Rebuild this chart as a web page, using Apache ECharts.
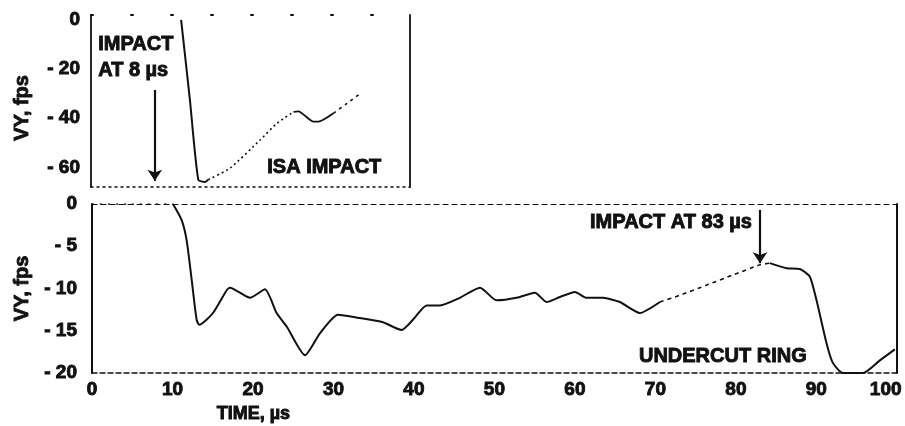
<!DOCTYPE html>
<html><head><meta charset="utf-8">
<script src="https://cdn.jsdelivr.net/npm/echarts@6/dist/echarts.min.js"></script>
<style>html,body{margin:0;padding:0;background:#fff}#c{width:905px;height:426px}</style>
</head><body><div id="c"></div>
<script>
// ---- data (time in µs, VY in fps) ----
const isaYTicks = [0, -20, -40, -60];
const ringYTicks = [0, -5, -10, -15, -20];

// ISA impact (upper panel)
const isaDrop = [[11.3, 0], [12.4, -32.5], [13.45, -65], [14.3, -66], [14.7, -65]];
const isaRise = [[14.7, -65], [17.4, -60.4], [21.2, -48.9], [23.3, -42.1], [25.4, -37.4]];
const isaBump = [[25.4, -37.4], [26.0, -37.2], [27.9, -41.4], [28.5, -41.4], [30.4, -38]];
const isaTail = [[30.4, -38], [32.1, -34], [33.9, -29.6]];

// Undercut ring (lower panel)
const ringLead = [[0, 0], [5, 0], [10.06, 0]];
const ringMain = [[10.06, 0], [11.14, -1.9], [11.76, -4.3], [12.39, -9], [13.0, -13.7], [13.33, -14.3],
  [15.03, -12.9], [16.73, -10.2], [17.14, -9.9], [19.63, -11.1], [21.49, -10.1], [22.94, -12.9],
  [24.19, -14.5], [26.46, -17.9], [28.32, -15.3], [30.56, -13.1], [33.29, -13.5], [36.15, -14],
  [38.47, -14.9], [39.88, -13.7], [41.58, -12], [43.23, -12], [45.71, -11.1], [48.2, -9.9],
  [50.27, -11.4], [52.76, -11.1], [55.03, -10.5], [56.48, -11.6], [58.14, -11], [60.0, -10.4],
  [61.45, -11.1], [63.48, -11.1], [65.59, -11.6], [68.07, -12.9], [70.56, -11.6]];
const ringRise = [[70.56, -11.6], [73.04, -10.8], [76.36, -9.6], [79.63, -8.4], [82.98, -7.2], [84.22, -7]];
const ringFall = [[84.22, -7], [86.3, -7.6], [87.95, -7.7], [89.19, -8.6], [90.02, -11.4], [91.27, -16.5],
  [92.05, -18.8], [93.29, -20], [95.78, -20], [97.89, -18.5], [99.75, -17.2]];

// ---- styles ----
const FONT = "'Liberation Sans', Arial, sans-serif";
const INK = '#111';
const txt = { fontFamily: FONT, fontWeight: 'bold', fontSize: 19, color: INK, textBorderColor: INK, textBorderWidth: 0.9 };
const noteTxt = Object.assign({}, txt, { fontSize: 20 });

function lineSeries(data, xi, yi, type, width) {
  return { type: 'line', data, xAxisIndex: xi, yAxisIndex: yi, showSymbol: false, symbol: 'none',
    smooth: 0.2, silent: true, lineStyle: { color: INK, width: width || 2, type: type || 'solid' } };
}
function note(name, coord, pos) {
  return { name, coord, symbol: 'circle', symbolSize: 0,
    label: Object.assign({ show: true, position: pos, distance: 0, formatter: p => p.name }, noteTxt) };
}

const chart = echarts.init(document.getElementById('c'), null, { renderer: 'canvas' });
const option = {
  backgroundColor: '#fff',
  animation: false,
  grid: [
    { left: 91, top: 15, width: 319, height: 172 },
    { left: 92, top: 204, width: 805, height: 169 }
  ],
  xAxis: [
    { gridIndex: 0, type: 'value', min: 0, max: 40, position: 'bottom',
      axisLine: { onZero: false, lineStyle: { color: INK, width: 1.5, type: [2, 4] } },
      axisTick: { show: false }, axisLabel: { show: false }, splitLine: { show: false } },
    { gridIndex: 0, type: 'value', min: 0, max: 40, position: 'top',
      axisLine: { onZero: false, lineStyle: { color: INK, width: 2, type: [2, 38] } },
      axisTick: { show: false }, axisLabel: { show: false }, splitLine: { show: false } },
    { gridIndex: 1, type: 'value', min: 0, max: 100, interval: 10, position: 'bottom',
      name: 'TIME, µs', nameLocation: 'middle', nameGap: 32,
      nameTextStyle: Object.assign({}, txt, { fontSize: 18, padding: [0, 482, 0, 0] }),
      axisLine: { onZero: false, lineStyle: { color: INK, width: 1.5, type: [5, 3] } },
      axisTick: { show: false }, splitLine: { show: false },
      axisLabel: Object.assign({ margin: 7,
        formatter: v => v === 100 ? '{e|100}' : String(v),
        rich: { e: Object.assign({ width: 54, align: 'left' }, txt) } }, txt) },
    { gridIndex: 1, type: 'value', min: 0, max: 100, position: 'top',
      axisLine: { onZero: false, lineStyle: { color: INK, width: 1.2, type: [5, 4] } },
      axisTick: { show: false }, axisLabel: { show: false }, splitLine: { show: false } }
  ],
  yAxis: [
    { gridIndex: 0, type: 'value', min: -68, max: 2, position: 'left',
      name: 'VY, fps', nameLocation: 'middle', nameGap: 59, nameRotate: 90,
      nameTextStyle: Object.assign({}, txt, { fontSize: 20, padding: [0, 14, 0, 0] }),
      axisLine: { onZero: false, lineStyle: { color: INK, width: 1.8 } },
      axisTick: { show: false }, splitLine: { show: false },
      axisLabel: Object.assign({ margin: 11, customValues: isaYTicks,
        formatter: v => v === 0 ? '0' : '- ' + Math.abs(v) }, txt) },
    { gridIndex: 0, type: 'value', min: -68, max: 2, position: 'right',
      axisLine: { onZero: false, lineStyle: { color: INK, width: 1.8 } },
      axisTick: { show: false }, axisLabel: { show: false }, splitLine: { show: false } },
    { gridIndex: 1, type: 'value', min: -20, max: 0, interval: 5, position: 'left',
      name: 'VY, fps', nameLocation: 'middle', nameGap: 60, nameRotate: 90,
      nameTextStyle: Object.assign({}, txt, { fontSize: 20 }),
      axisLine: { onZero: false, lineStyle: { color: INK, width: 2 } },
      axisTick: { show: false }, splitLine: { show: false },
      axisLabel: Object.assign({ margin: 15, customValues: ringYTicks,
        formatter: v => v === 0 ? '0' : '- ' + Math.abs(v) }, txt) },
    { gridIndex: 1, type: 'value', min: -20, max: 0, position: 'right',
      axisLine: { onZero: false, lineStyle: { color: INK, width: 2 } },
      axisTick: { show: false }, axisLabel: { show: false }, splitLine: { show: false } }
  ],
  series: [
    Object.assign(lineSeries(isaDrop, 0, 0, 'solid', 2), {
      markLine: { silent: true, symbol: ['none', 'arrow'], symbolSize: 11,
        lineStyle: { color: INK, width: 2.2, type: 'solid' }, label: { show: false },
        data: [[{ coord: [8, -28.5] }, { coord: [8, -65.5] }]] },
      markPoint: { silent: true, data: [
        note('IMPACT', [0.9, -10.2], 'right'),
        note('AT 8 µs', [0.9, -20.4], 'right'),
        note('ISA IMPACT', [22.1, -59.9], 'right')
      ] } }),
    lineSeries(isaRise, 0, 0, [2, 3], 1.6),
    lineSeries(isaBump, 0, 0, 'solid', 1.8),
    lineSeries(isaTail, 0, 0, [3, 4], 1.6),
    lineSeries(ringLead, 2, 2, [2, 6], 1.5),
    Object.assign(lineSeries(ringMain, 2, 2, 'solid', 2), {
      markLine: { silent: true, symbol: ['none', 'arrow'], symbolSize: 11,
        lineStyle: { color: INK, width: 2.2, type: 'solid' }, label: { show: false },
        data: [[{ coord: [83, -0.7] }, { coord: [83, -7.0] }]] },
      markPoint: { silent: true, data: [
        note('IMPACT AT 83 µs', [82.0, -2.13], 'left'),
        note('UNDERCUT RING', [88.8, -18.1], 'left')
      ] } }),
    lineSeries(ringRise, 2, 2, [4, 4], 1.6),
    lineSeries(ringFall, 2, 2, 'solid', 2)
  ]
};
chart.setOption(option);
</script>
</body></html>
